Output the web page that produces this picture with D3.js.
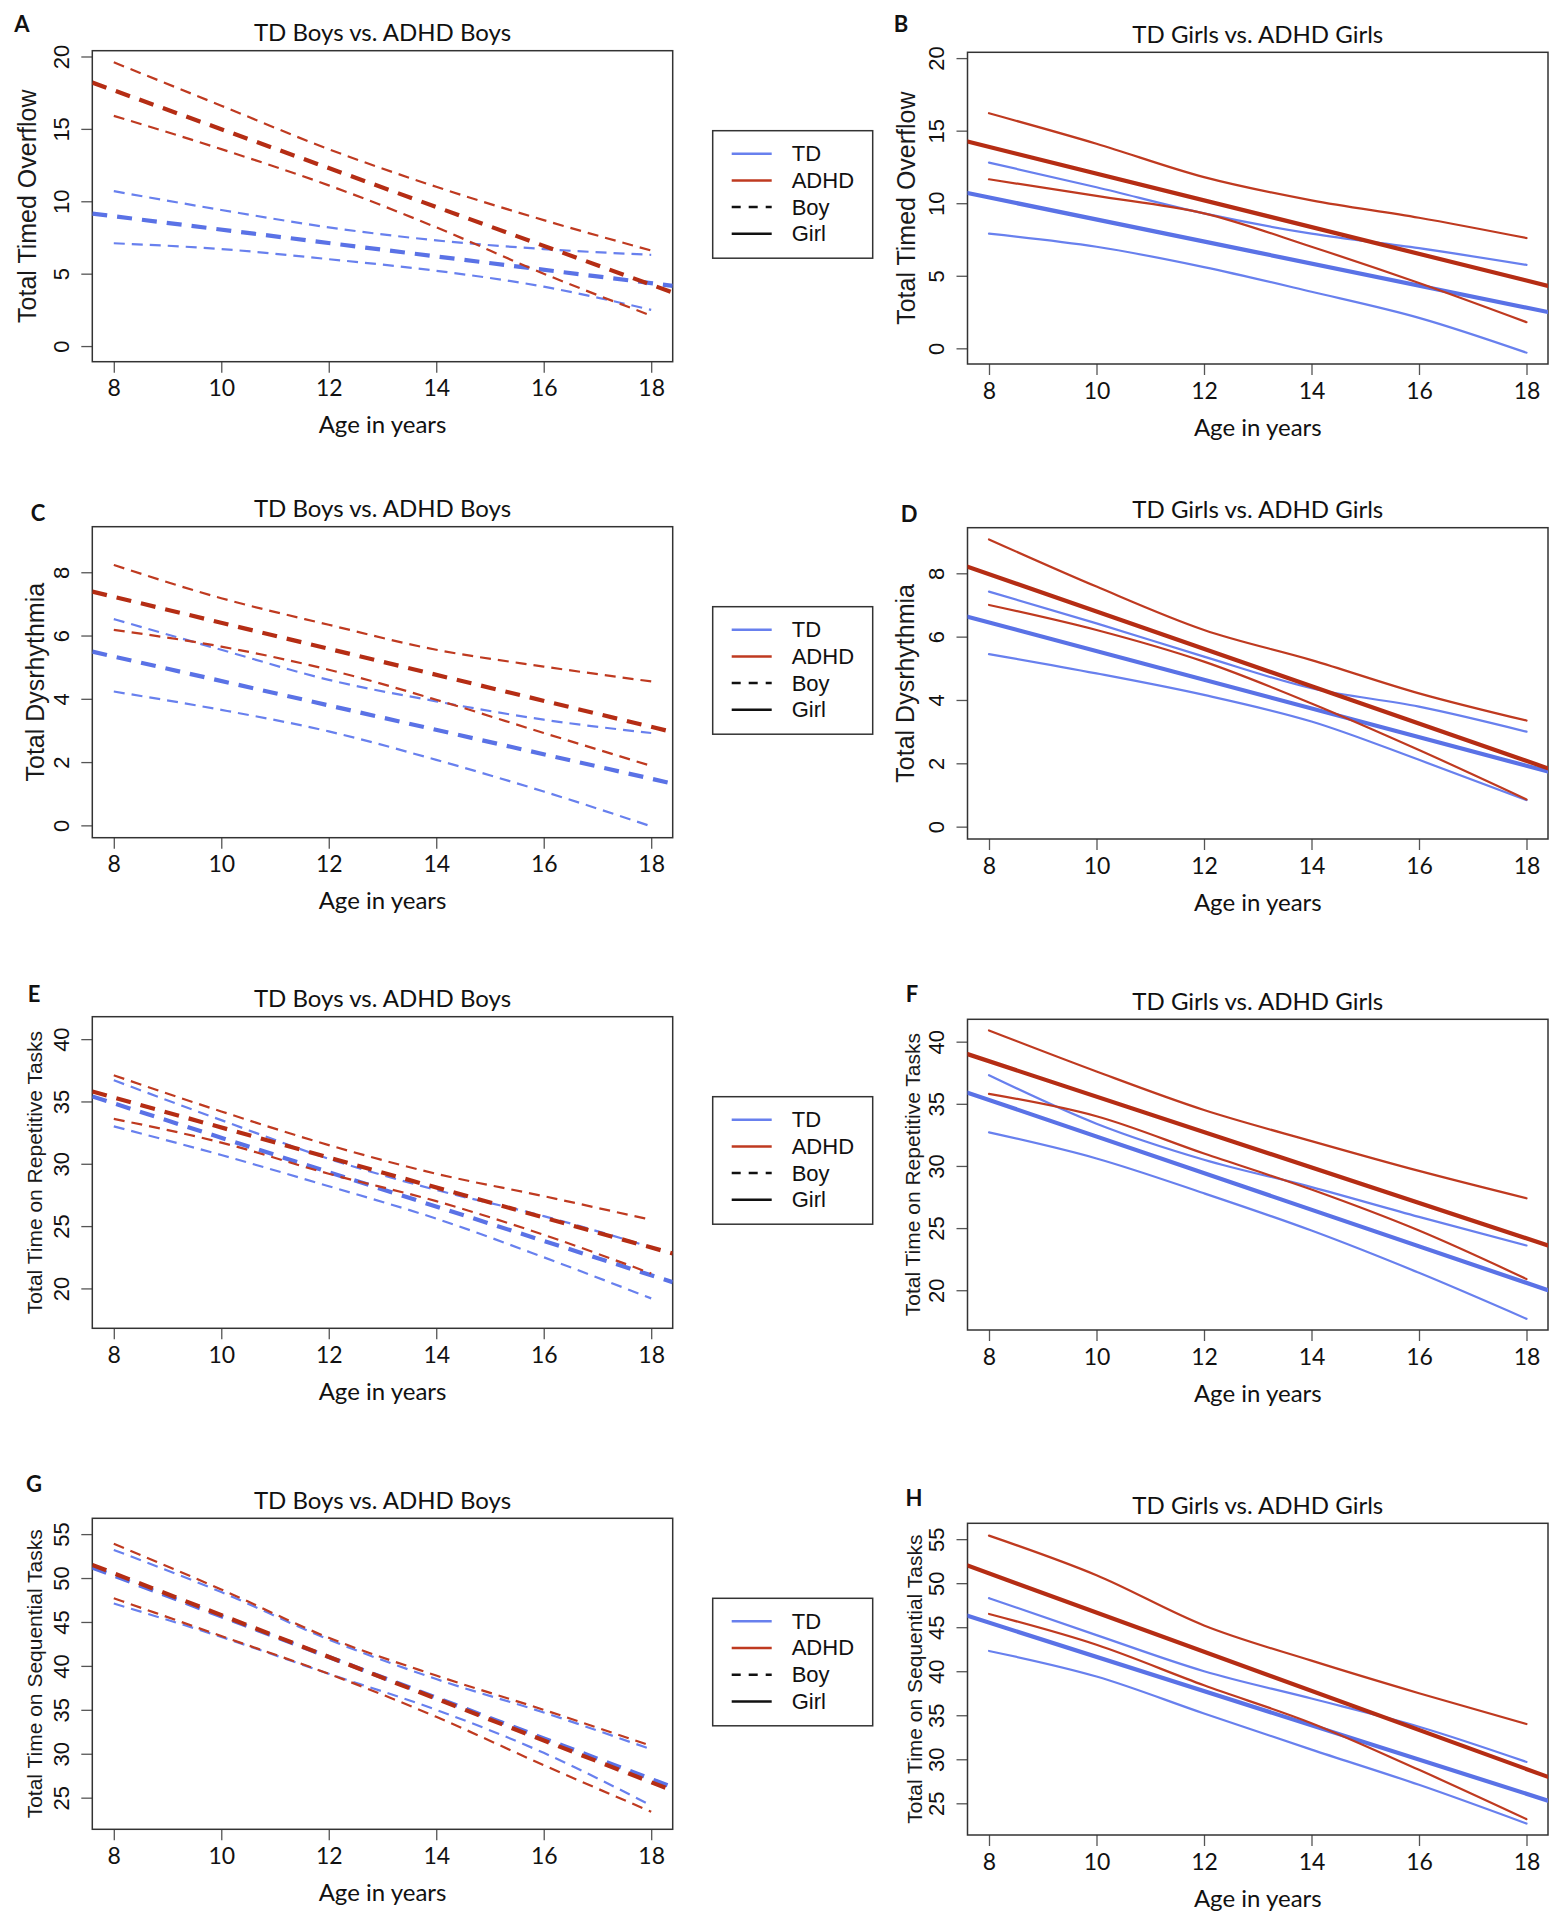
<!DOCTYPE html>
<html>
<head>
<meta charset="utf-8">
<script src="https://cdn.jsdelivr.net/npm/d3@7"></script>
<style>
  html, body { margin: 0; padding: 0; background: #fff; }
  svg { display: block; }
</style>
</head>
<body>
<svg id="chart" width="1562" height="1920"></svg>
<script>
// ---------------- DATA ----------------
const ciAges  = [8, 10, 12, 14, 16, 18];     // ages at which confidence bands are read
const fitAges = [7.6, 18.4];                 // fitted line read at the axis limits
const xTicks  = [8, 10, 12, 14, 16, 18];

const legendLabels = ["TD", "ADHD", "Boy", "Girl"];
const panelLetters = ["A", "B", "C", "D", "E", "F", "G", "H"];
const panelTitles  = ["TD Boys vs. ADHD Boys", "TD Girls vs. ADHD Girls"];
const yTitles = ["Total Timed Overflow", "Total Dysrhythmia",
                 "Total Time on Repetitive Tasks", "Total Time on Sequential Tasks"];
const xTitle = "Age in years";

// y axis limits and ticks per row
const yLimAB = [-1.08, 20.4],  yTicksAB = [0, 5, 10, 15, 20];
const yLimCD = [-0.39, 9.44],  yTicksCD = [0, 2, 4, 6, 8];
const yLimEF = [16.8, 41.8],   yTicksEF = [20, 25, 30, 35, 40];
const yLimGH = [21.4, 56.8],   yTicksGH = [25, 30, 35, 40, 45, 50, 55];

// Panel A (boys) – Total Timed Overflow
const A_tdFit     = [9.15, 4.16];
const A_tdUpper   = [10.7, 9.4, 8.2, 7.3, 6.7, 6.3];
const A_tdLower   = [7.1, 6.7, 6.0, 5.2, 4.1, 2.5];
const A_adhdFit   = [18.2, 3.7];
const A_adhdUpper = [19.6, 16.6, 13.6, 11.0, 8.7, 6.6];
const A_adhdLower = [15.9, 13.6, 11.1, 8.2, 5.0, 2.1];
// Panel B (girls)
const B_tdFit     = [10.7, 2.5];
const B_tdUpper   = [12.8, 11.1, 9.3, 7.9, 6.9, 5.75];
const B_tdLower   = [7.9, 7.0, 5.6, 3.9, 2.1, -0.3];
const B_adhdFit   = [14.25, 4.3];
const B_adhdUpper = [16.2, 14.1, 11.8, 10.2, 9.0, 7.6];
const B_adhdLower = [11.65, 10.5, 9.3, 7.0, 4.5, 1.8];
// Panel C (boys) – Total Dysrhythmia
const C_tdFit     = [5.49, 1.32];
const C_tdUpper   = [6.52, 5.55, 4.6, 3.92, 3.34, 2.92];
const C_tdLower   = [4.23, 3.65, 2.97, 2.07, 1.07, -0.03];
const C_adhdFit   = [7.39, 2.95];
const C_adhdUpper = [8.23, 7.18, 6.34, 5.55, 5.02, 4.55];
const C_adhdLower = [6.18, 5.65, 4.92, 3.97, 2.92, 1.88];
// Panel D (girls)
const D_tdFit     = [6.63, 1.74];
const D_tdUpper   = [7.42, 6.42, 5.37, 4.37, 3.79, 3.0];
const D_tdLower   = [5.45, 4.84, 4.16, 3.32, 2.11, 0.84];
const D_adhdFit   = [8.21, 1.84];
const D_adhdUpper = [9.07, 7.58, 6.21, 5.26, 4.21, 3.35];
const D_adhdLower = [7.0, 6.21, 5.21, 3.89, 2.42, 0.86];
// Panel E (boys) – Repetitive tasks
const E_tdFit     = [35.4, 20.5];
const E_tdUpper   = [36.7, 33.5, 30.4, 27.9, 25.8, 23.3];
const E_tdLower   = [33.0, 30.7, 28.2, 25.6, 22.5, 19.2];
const E_adhdFit   = [35.8, 22.8];
const E_adhdUpper = [37.1, 34.2, 31.5, 29.2, 27.4, 25.5];
const E_adhdLower = [33.6, 31.7, 29.2, 27.0, 24.3, 21.2];
// Panel F (girls)
const F_tdFit     = [35.9, 20.0];
const F_tdUpper   = [37.3, 33.4, 30.5, 28.3, 25.9, 23.6];
const F_tdLower   = [32.7, 30.6, 27.8, 24.8, 21.4, 17.7];
const F_adhdFit   = [39.0, 23.6];
const F_adhdUpper = [40.9, 37.6, 34.5, 32.0, 29.6, 27.4];
const F_adhdLower = [35.8, 34.0, 31.0, 28.1, 24.8, 20.9];
// Panel G (boys) – Sequential tasks
const G_tdFit     = [51.2, 26.2];
const G_tdUpper   = [53.2, 48.4, 43.0, 38.5, 34.7, 30.5];
const G_tdLower   = [47.1, 43.3, 39.1, 35.0, 30.1, 24.1];
const G_adhdFit   = [51.5, 25.8];
const G_adhdUpper = [53.9, 48.7, 43.2, 38.9, 35.0, 30.9];
const G_adhdLower = [47.7, 43.4, 39.1, 34.2, 28.7, 23.4];
// Panel H (girls)
const H_tdFit     = [46.3, 25.3];
const H_tdUpper   = [48.3, 44.1, 40.0, 36.9, 33.7, 29.7];
const H_tdLower   = [42.3, 39.4, 35.2, 31.1, 27.1, 22.7];
const H_adhdFit   = [52.0, 28.0];
const H_adhdUpper = [55.4, 50.9, 45.2, 41.2, 37.5, 34.0];
const H_adhdLower = [46.5, 43.0, 38.4, 34.1, 28.8, 23.2];

// ---------------- LAYOUT / STYLE ----------------
const BLUE = "#5a72e6", BLUE_THIN = "#6880ee";
const RED = "#b52d14", RED_THIN = "#bf3a20";
const CAL = "Lato, 'Open Sans', sans-serif";
const ARI = "'Liberation Sans', Arial, sans-serif";

const colX = [[92.3, 672.7], [967.5, 1548]];
const rows = [
  {boxes: [[50.7, 361.7], [52.3, 364]], ylim: yLimAB, ticks: yTicksAB, ytitle: yTitles[0], yfs: 25},
  {boxes: [[526.7, 837.7], [527.7, 839]], ylim: yLimCD, ticks: yTicksCD, ytitle: yTitles[1], yfs: 25},
  {boxes: [[1016.7, 1328.3], [1019.3, 1330]], ylim: yLimEF, ticks: yTicksEF, ytitle: yTitles[2], yfs: 21},
  {boxes: [[1518.3, 1829.3], [1523.3, 1835]], ylim: yLimGH, ticks: yTicksGH, ytitle: yTitles[3], yfs: 21}
];
const panelSeries = [
  [A_tdFit, A_tdUpper, A_tdLower, A_adhdFit, A_adhdUpper, A_adhdLower],
  [B_tdFit, B_tdUpper, B_tdLower, B_adhdFit, B_adhdUpper, B_adhdLower],
  [C_tdFit, C_tdUpper, C_tdLower, C_adhdFit, C_adhdUpper, C_adhdLower],
  [D_tdFit, D_tdUpper, D_tdLower, D_adhdFit, D_adhdUpper, D_adhdLower],
  [E_tdFit, E_tdUpper, E_tdLower, E_adhdFit, E_adhdUpper, E_adhdLower],
  [F_tdFit, F_tdUpper, F_tdLower, F_adhdFit, F_adhdUpper, F_adhdLower],
  [G_tdFit, G_tdUpper, G_tdLower, G_adhdFit, G_adhdUpper, G_adhdLower],
  [H_tdFit, H_tdUpper, H_tdLower, H_adhdFit, H_adhdUpper, H_adhdLower]
];
const letterPos = [[22, 23], [901, 23], [38, 512], [909, 513], [34, 993], [912, 993], [34, 1483], [914, 1497]];
const yTitleX = [[27, 906], [35, 905], [34, 912], [34, 914]];

const svg = d3.select("#chart");

rows.forEach((row, ri) => {
  [0, 1].forEach(ci => {
    const pi = ri * 2 + ci;
    const [x0, x1] = colX[ci];
    const [y0, y1] = row.boxes[ci];
    const girls = ci === 1;
    const x = d3.scaleLinear().domain([7.6, 18.4]).range([x0, x1]);
    const y = d3.scaleLinear().domain(row.ylim).range([y1, y0]);
    const g = svg.append("g");

    // clip
    const clipId = "clip" + pi;
    svg.append("clipPath").attr("id", clipId)
      .append("rect").attr("x", x0).attr("y", y0).attr("width", x1 - x0).attr("height", y1 - y0);

    // axes
    const xAxis = d3.axisBottom(x).tickValues(xTicks).tickSize(11).tickPadding(4).tickFormat(d3.format("d"));
    const gx = g.append("g").attr("transform", `translate(0,${y1})`).call(xAxis);
    gx.select(".domain").remove();
    gx.selectAll("line").attr("stroke", "#555").attr("stroke-width", 1.3);
    gx.selectAll("text").attr("font-family", CAL).attr("font-size", 23).attr("fill", "#111")
      .attr("dy", "0.85em");

    const yAxis = d3.axisLeft(y).tickValues(row.ticks).tickSize(11).tickPadding(6).tickFormat(d3.format("d"));
    const gy = g.append("g").attr("transform", `translate(${x0},0)`).call(yAxis);
    gy.select(".domain").remove();
    gy.selectAll("line").attr("stroke", "#555").attr("stroke-width", 1.3);
    gy.selectAll("text").attr("font-family", ARI).attr("font-size", 22).attr("fill", "#111")
      .attr("x", null).attr("dy", null)
      .attr("text-anchor", "middle")
      .attr("transform", d => `translate(${-31},${0}) rotate(-90)`)
      .attr("dominant-baseline", "central");

    // box
    g.append("rect").attr("x", x0).attr("y", y0).attr("width", x1 - x0).attr("height", y1 - y0)
      .attr("fill", "none").attr("stroke", "#333").attr("stroke-width", 1.5);

    // lines
    const series = panelSeries[pi];
    const fitLine = d3.line().x((d, i) => x(fitAges[i])).y(d => y(d));
    const ciLine = d3.line().x((d, i) => x(ciAges[i])).y(d => y(d)).curve(d3.curveMonotoneX);
    const lg = g.append("g").attr("clip-path", `url(#${clipId})`).attr("fill", "none")
      .attr("stroke-linecap", girls ? "round" : "butt");
    const groups = [
      {fit: series[0], up: series[1], lo: series[2], c: BLUE, ct: BLUE_THIN},
      {fit: series[3], up: series[4], lo: series[5], c: RED, ct: RED_THIN}
    ];
    groups.forEach(gr => {
      [gr.up, gr.lo].forEach(arr => {
        lg.append("path").datum(arr).attr("d", ciLine)
          .attr("stroke", gr.ct).attr("stroke-width", 2.2)
          .attr("stroke-dasharray", girls ? null : "11,7");
      });
      lg.append("path").datum(gr.fit).attr("d", fitLine)
        .attr("stroke", gr.c).attr("stroke-width", 4.2)
        .attr("stroke-dasharray", girls ? null : "15,10");
    });

    // title
    g.append("text").attr("x", (x0 + x1) / 2).attr("y", y0 - 19)
      .attr("text-anchor", "middle").attr("dominant-baseline", "central")
      .attr("font-family", CAL).attr("font-size", 24).attr("fill", "#111")
      .text(panelTitles[ci]);
    // x title
    g.append("text").attr("x", (x0 + x1) / 2).attr("y", y1 + 62)
      .attr("text-anchor", "middle").attr("dominant-baseline", "central")
      .attr("font-family", CAL).attr("font-size", 24).attr("fill", "#111")
      .text(xTitle);
    // y title
    const ytx = yTitleX[ri][ci], yty = (y0 + y1) / 2;
    g.append("text").attr("transform", `translate(${ytx},${yty}) rotate(-90)`)
      .attr("text-anchor", "middle").attr("dominant-baseline", "central")
      .attr("font-family", ARI).attr("font-size", row.yfs).attr("fill", "#1a1a1a")
      .text(row.ytitle);
    // panel letter
    g.append("text").attr("x", letterPos[pi][0]).attr("y", letterPos[pi][1])
      .attr("text-anchor", "middle").attr("dominant-baseline", "central")
      .attr("font-family", CAL).attr("font-weight", "bold").attr("font-size", 22).attr("fill", "#111")
      .text(panelLetters[pi]);
  });

  // legend for this row
  const ly = rows[ri].boxes[0][0] + 80;
  const lgd = svg.append("g").attr("transform", `translate(712.7,${ly})`);
  lgd.append("rect").attr("x", 0).attr("y", 0).attr("width", 160).attr("height", 127.5)
    .attr("fill", "#fff").attr("stroke", "#333").attr("stroke-width", 1.5);
  const styles = [
    {c: BLUE_THIN, dash: null}, {c: RED_THIN, dash: null},
    {c: "#111", dash: "9,8"}, {c: "#111", dash: null}
  ];
  legendLabels.forEach((lab, i) => {
    const yy = 23 + i * 26.7;
    lgd.append("line").attr("x1", 19).attr("x2", 59).attr("y1", yy).attr("y2", yy)
      .attr("stroke", styles[i].c).attr("stroke-width", 2.5)
      .attr("stroke-dasharray", styles[i].dash);
    lgd.append("text").attr("x", 79).attr("y", yy).attr("dominant-baseline", "central")
      .attr("font-family", ARI).attr("font-size", 22).attr("fill", "#111").text(lab);
  });
});
</script>
</body>
</html>
